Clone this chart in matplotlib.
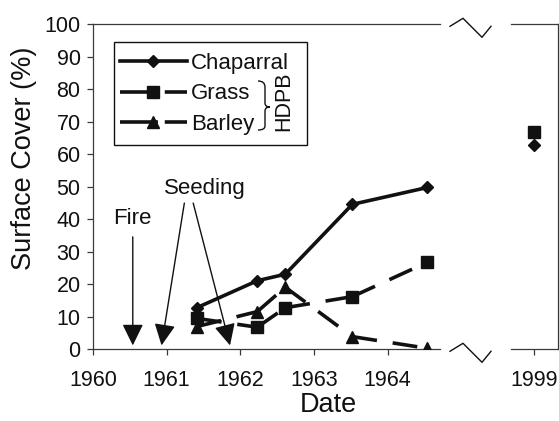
import matplotlib.pyplot as plt
from matplotlib.lines import Line2D
from matplotlib.patches import Rectangle, PathPatch
from matplotlib.path import Path

plt.rcParams['font.family'] = ['Liberation Sans', 'DejaVu Sans']

# values
dates = [1961.41, 1962.23, 1962.61, 1963.52, 1964.54]
chaparral = [12.8, 21.1, 23.1, 44.6, 49.8]
grass = [9.5, 6.8, 12.8, 16.2, 26.8]
barley = [7.0, 11.6, 19.1, 3.9, 0.3]

late_year = [1999]
chaparral_1999 = [63]
grass_1999 = [67]

fire_date = 1960.54
seeding_dates = [1960.93, 1961.86]

year_ticks = [1960, 1961, 1962, 1963, 1964]
y_ticks = list(range(0, 101, 10))

W, H = 559, 421
fig = plt.figure(figsize=(W / 100, H / 100), dpi=100)


def fx(x):
    return x / W


def fy(y):
    return 1 - y / H


ink = '#111111'
spine_c = '#3a3a3a'
lw = 2.6
dash = (6.9, 4.4)

ax = fig.add_axes([fx(93), fy(349.3), (440 - 93) / W, 325 / H])
ax2 = fig.add_axes([fx(511), fy(349.3), 46.5 / W, 325 / H])

for a in (ax, ax2):
    a.set_ylim(0, 100)
    a.tick_params(direction='out', length=4, width=0.9, color=spine_c,
                  labelsize=15.5, labelcolor=ink)
    a.tick_params(axis='x', pad=11)
    a.tick_params(axis='y', pad=5)
    for s in a.spines.values():
        s.set_color(spine_c)
        s.set_linewidth(0.9)

ax.set_xlim(1960, 1964.71)
ax.set_xticks(year_ticks)
ax.set_yticks(y_ticks)
ax.spines['right'].set_visible(False)

ax2.set_xlim(1998.5, 1999.5)
ax2.set_xticks(late_year)
ax2.set_yticks([])
ax2.spines['left'].set_visible(False)

# series, dashes restart at each point like the original
ax.plot(dates, chaparral, color=ink, lw=lw, marker='D', ms=6, zorder=3)
for series, mk in ((grass, 's'), (barley, '^')):
    for i in range(len(dates) - 1):
        ax.plot(dates[i:i + 2], series[i:i + 2], color=ink, lw=lw,
                dashes=dash, zorder=2)
    ax.plot(dates, series, ls='none', marker=mk, ms=8.6, color=ink, zorder=3)

ax2.plot(late_year, grass_1999, ls='none', marker='s', ms=8.6, color=ink, clip_on=False)
ax2.plot(late_year, chaparral_1999, ls='none', marker='D', ms=6, color=ink, clip_on=False)

# annotations
arrow = dict(arrowstyle='-|>,head_length=0.55,head_width=0.27', color=ink,
             lw=1.0, shrinkA=0, shrinkB=0, mutation_scale=24)
ax.text(fire_date, 40.4, 'Fire', ha='center', va='center', fontsize=16, color=ink)
ax.annotate('', xy=(fire_date, 1.2), xytext=(fire_date, 34.6), arrowprops=arrow)
ax.text(1961.52, 49.6, 'Seeding', ha='center', va='center', fontsize=16, color=ink)
ax.annotate('', xy=(seeding_dates[0], 1.2), xytext=(1961.24, 45.0), arrowprops=arrow)
ax.annotate('', xy=(seeding_dates[1], 1.2), xytext=(1961.36, 45.0), arrowprops=arrow)

# legend
handles = [
    Line2D([], [], color=ink, lw=lw, marker='D', ms=6),
    Line2D([], [], color=ink, lw=lw, marker='s', ms=8.6, dashes=(10.5, 1.9)),
    Line2D([], [], color=ink, lw=lw, marker='^', ms=8.6, dashes=(10.5, 1.9)),
]
fig.legend(handles, ['Chaparral', 'Grass', 'Barley'], loc='upper left',
           bbox_to_anchor=(fx(120), fy(53)), bbox_transform=fig.transFigure,
           frameon=False, borderpad=0, borderaxespad=0, fontsize=16,
           handlelength=3.0, handletextpad=0.2, labelspacing=0.42,
           labelcolor=ink)
fig.add_artist(Rectangle((fx(114), fy(145)), (307 - 114) / W, (145 - 42) / H,
                         transform=fig.transFigure, fill=False, ec=ink, lw=1.0))
brace = Path([(fx(258), fy(81)), (fx(265), fy(81)), (fx(265), fy(87)),
              (fx(265), fy(103)), (fx(265), fy(107)), (fx(270), fy(107)),
              (fx(265), fy(107)), (fx(265), fy(111)),
              (fx(265), fy(126)), (fx(265), fy(130)), (fx(258), fy(130))],
             [Path.MOVETO, Path.CURVE3, Path.CURVE3,
              Path.LINETO, Path.CURVE3, Path.CURVE3,
              Path.CURVE3, Path.CURVE3,
              Path.LINETO, Path.CURVE3, Path.CURVE3])
fig.add_artist(PathPatch(brace, transform=fig.transFigure, fill=False, ec=ink, lw=1.0))
fig.text(fx(284), fy(101), 'HDPB', rotation=90, ha='center', va='center',
         fontsize=15.5, color=ink)

# axis breaks
for y0 in (24.3, 349.3):
    xs = [450, 463, 482, 491]
    ys = [y0 + 2, y0 - 6, y0 + 13, y0 + 2]
    fig.add_artist(Line2D([fx(v) for v in xs], [fy(v) for v in ys],
                          transform=fig.transFigure, color=ink, lw=1.0))

fig.text(fx(24), fy(158.3), 'Surface Cover (%)', rotation=90, ha='center',
         va='center', fontsize=19.5, color=ink)
fig.text(fx(328), fy(412), 'Date', ha='center', va='baseline', fontsize=19.5, color=ink)

fig.savefig('out.png', dpi=100)
